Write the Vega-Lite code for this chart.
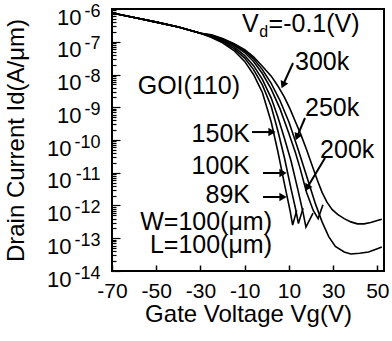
{
  "$schema": "https://vega.github.io/schema/vega-lite/v6.json",
  "width": 272,
  "height": 262,
  "autosize": {"type": "none"},
  "padding": {"left": 112, "top": 9, "right": 8, "bottom": 70},
  "background": "white",
  "config": {
    "view": {"stroke": "black", "strokeWidth": 2},
    "font": "Liberation Sans",
    "text": {"font": "Liberation Sans", "color": "black"}
  },
  "datasets": {
    "curves": [
      {"s": "89K", "v": -70, "i": 7.59e-7}, {"s": "89K", "v": -60, "i": 5.50e-7}, {"s": "89K", "v": -50, "i": 3.98e-7}, {"s": "89K", "v": -40, "i": 2.82e-7}, {"s": "89K", "v": -30, "i": 1.82e-7},
      {"s": "89K", "v": -25, "i": 1.35e-7}, {"s": "89K", "v": -20, "i": 9.33e-8}, {"s": "89K", "v": -15, "i": 5.50e-8}, {"s": "89K", "v": -10, "i": 2.51e-8}, {"s": "89K", "v": -6, "i": 1.00e-8},
      {"s": "89K", "v": -2, "i": 2.82e-9}, {"s": "89K", "v": 2, "i": 3.55e-10}, {"s": "89K", "v": 5, "i": 4.47e-11}, {"s": "89K", "v": 8, "i": 4.47e-12}, {"s": "89K", "v": 10.5, "i": 7.08e-13},
      {"s": "89K", "v": 11.7, "i": 2.51e-13}, {"s": "89K", "v": 13.5, "i": 7.08e-13},

      {"s": "100K", "v": -70, "i": 7.59e-7}, {"s": "100K", "v": -60, "i": 5.50e-7}, {"s": "100K", "v": -50, "i": 3.98e-7}, {"s": "100K", "v": -40, "i": 2.82e-7}, {"s": "100K", "v": -30, "i": 1.82e-7},
      {"s": "100K", "v": -25, "i": 1.41e-7}, {"s": "100K", "v": -20, "i": 1.00e-7}, {"s": "100K", "v": -15, "i": 6.31e-8}, {"s": "100K", "v": -10, "i": 3.16e-8}, {"s": "100K", "v": -6, "i": 1.41e-8},
      {"s": "100K", "v": -2, "i": 4.79e-9}, {"s": "100K", "v": 2, "i": 1.05e-9}, {"s": "100K", "v": 5, "i": 1.91e-10}, {"s": "100K", "v": 8, "i": 2.82e-11}, {"s": "100K", "v": 11, "i": 3.16e-12},
      {"s": "100K", "v": 13, "i": 7.94e-13}, {"s": "100K", "v": 14.3, "i": 2.82e-13}, {"s": "100K", "v": 16.4, "i": 8.32e-13},

      {"s": "150K", "v": -70, "i": 7.59e-7}, {"s": "150K", "v": -60, "i": 5.50e-7}, {"s": "150K", "v": -50, "i": 3.98e-7}, {"s": "150K", "v": -40, "i": 2.82e-7}, {"s": "150K", "v": -30, "i": 1.82e-7},
      {"s": "150K", "v": -25, "i": 1.48e-7}, {"s": "150K", "v": -20, "i": 1.07e-7}, {"s": "150K", "v": -15, "i": 7.08e-8}, {"s": "150K", "v": -10, "i": 3.80e-8}, {"s": "150K", "v": -6, "i": 1.86e-8},
      {"s": "150K", "v": -2, "i": 7.08e-9}, {"s": "150K", "v": 2, "i": 1.91e-9}, {"s": "150K", "v": 5, "i": 5.01e-10}, {"s": "150K", "v": 8, "i": 1.12e-10}, {"s": "150K", "v": 11, "i": 2.24e-11},
      {"s": "150K", "v": 14, "i": 3.16e-12}, {"s": "150K", "v": 16.5, "i": 5.62e-13}, {"s": "150K", "v": 17.7, "i": 2.19e-13}, {"s": "150K", "v": 20.9, "i": 5.89e-13},

      {"s": "200k", "v": -70, "i": 7.59e-7}, {"s": "200k", "v": -60, "i": 5.50e-7}, {"s": "200k", "v": -50, "i": 3.98e-7}, {"s": "200k", "v": -40, "i": 2.82e-7}, {"s": "200k", "v": -30, "i": 1.82e-7},
      {"s": "200k", "v": -25, "i": 1.55e-7}, {"s": "200k", "v": -20, "i": 1.15e-7}, {"s": "200k", "v": -15, "i": 7.94e-8}, {"s": "200k", "v": -10, "i": 4.68e-8}, {"s": "200k", "v": -6, "i": 2.51e-8},
      {"s": "200k", "v": -2, "i": 1.07e-8}, {"s": "200k", "v": 2, "i": 3.55e-9}, {"s": "200k", "v": 6, "i": 8.91e-10}, {"s": "200k", "v": 10, "i": 1.58e-10}, {"s": "200k", "v": 13, "i": 3.98e-11},
      {"s": "200k", "v": 15, "i": 1.41e-11}, {"s": "200k", "v": 18, "i": 2.51e-12}, {"s": "200k", "v": 21, "i": 7.08e-13}, {"s": "200k", "v": 23.2, "i": 3.98e-13}, {"s": "200k", "v": 25.4, "i": 1.05e-12},

      {"s": "250k", "v": -70, "i": 7.59e-7}, {"s": "250k", "v": -60, "i": 5.50e-7}, {"s": "250k", "v": -50, "i": 3.98e-7}, {"s": "250k", "v": -40, "i": 2.82e-7}, {"s": "250k", "v": -30, "i": 1.82e-7},
      {"s": "250k", "v": -25, "i": 1.58e-7}, {"s": "250k", "v": -20, "i": 1.20e-7}, {"s": "250k", "v": -15, "i": 8.51e-8}, {"s": "250k", "v": -10, "i": 5.25e-8}, {"s": "250k", "v": -6, "i": 3.02e-8},
      {"s": "250k", "v": -2, "i": 1.41e-8}, {"s": "250k", "v": 2, "i": 5.37e-9}, {"s": "250k", "v": 6, "i": 1.58e-9}, {"s": "250k", "v": 10, "i": 3.55e-10}, {"s": "250k", "v": 14, "i": 5.62e-11},
      {"s": "250k", "v": 18, "i": 7.94e-12}, {"s": "250k", "v": 22, "i": 1.12e-12}, {"s": "250k", "v": 25, "i": 3.16e-13}, {"s": "250k", "v": 28, "i": 1.12e-13}, {"s": "250k", "v": 31, "i": 5.62e-14},
      {"s": "250k", "v": 35, "i": 3.80e-14}, {"s": "250k", "v": 38, "i": 3.31e-14}, {"s": "250k", "v": 42, "i": 3.47e-14}, {"s": "250k", "v": 46, "i": 3.80e-14}, {"s": "250k", "v": 50, "i": 4.79e-14}, {"s": "250k", "v": 52, "i": 5.37e-14},

      {"s": "300k", "v": -70, "i": 7.59e-7}, {"s": "300k", "v": -60, "i": 5.50e-7}, {"s": "300k", "v": -50, "i": 3.98e-7}, {"s": "300k", "v": -40, "i": 2.82e-7}, {"s": "300k", "v": -30, "i": 1.82e-7},
      {"s": "300k", "v": -25, "i": 1.62e-7}, {"s": "300k", "v": -20, "i": 1.26e-7}, {"s": "300k", "v": -15, "i": 8.91e-8}, {"s": "300k", "v": -10, "i": 5.75e-8}, {"s": "300k", "v": -6, "i": 3.47e-8},
      {"s": "300k", "v": -2, "i": 1.78e-8}, {"s": "300k", "v": 2, "i": 8.91e-9}, {"s": "300k", "v": 5, "i": 4.47e-9}, {"s": "300k", "v": 8, "i": 2.00e-9}, {"s": "300k", "v": 10.5, "i": 8.91e-10},
      {"s": "300k", "v": 13, "i": 3.55e-10}, {"s": "300k", "v": 15.5, "i": 1.41e-10}, {"s": "300k", "v": 18, "i": 5.01e-11}, {"s": "300k", "v": 20.5, "i": 1.66e-11}, {"s": "300k", "v": 22.7, "i": 6.31e-12},
      {"s": "300k", "v": 25, "i": 2.51e-12}, {"s": "300k", "v": 27.2, "i": 1.26e-12}, {"s": "300k", "v": 29.5, "i": 7.59e-13}, {"s": "300k", "v": 32, "i": 5.37e-13}, {"s": "300k", "v": 35, "i": 3.98e-13},
      {"s": "300k", "v": 38, "i": 3.16e-13}, {"s": "300k", "v": 41, "i": 2.75e-13}, {"s": "300k", "v": 44, "i": 2.75e-13}, {"s": "300k", "v": 47, "i": 3.02e-13}, {"s": "300k", "v": 50, "i": 3.47e-13}, {"s": "300k", "v": 52, "i": 3.80e-13}
    ],
    "textLeft": [
      {"t": "V", "v": -11.2, "i": 1.99e-7},
      {"t": "=-0.1(V)", "v": 0.8, "i": 1.99e-7},
      {"t": "300k", "v": 12.75, "i": 1.37e-8},
      {"t": "250k", "v": 17.3, "i": 5.41e-10},
      {"t": "200k", "v": 24.1, "i": 2.82e-11}
    ],
    "textRight": [
      {"t": "GOI(110)", "v": -12.1, "i": 2.54e-9},
      {"t": "150K", "v": -7.6, "i": 8.69e-11},
      {"t": "100K", "v": -7.6, "i": 9.17e-12},
      {"t": "89K", "v": -7.6, "i": 1.19e-12},
      {"t": "W=100(μm)", "v": 2.35, "i": 1.79e-13},
      {"t": "L=100(μm)", "v": 2.35, "i": 3.55e-14}
    ],
    "textSub": [
      {"t": "d", "v": -3.4, "i": 1.40e-7}
    ],
    "arrows": [
      {"a": "300k", "v": 11.85, "i": 2.24e-8, "v2": 7.33, "i2": 4.78e-9},
      {"a": "250k", "v": 17.27, "i": 4.70e-10, "v2": 13.66, "i2": 1.24e-10},
      {"a": "200k", "v": 26.32, "i": 2.82e-11, "v2": 18.18, "i2": 3.42e-12},
      {"a": "150K", "v": -6.69, "i": 1.75e-10, "v2": 2.35, "i2": 1.75e-10},
      {"a": "100K", "v": -1.72, "i": 9.82e-12, "v2": 7.33, "i2": 9.82e-12},
      {"a": "89K", "v": -1.72, "i": 1.82e-12, "v2": 7.33, "i2": 1.82e-12}
    ]
  },
  "resolve": {"axis": {"y": "independent"}},
  "layer": [
    {
      "encoding": {
        "x": {
          "field": "v", "type": "quantitative",
          "scale": {"domain": [-70, 53], "nice": false, "zero": false},
          "axis": {
            "values": [-70, -60, -50, -40, -30, -20, -10, 0, 10, 20, 30, 40, 50],
            "labelExpr": "(datum.value + 70) % 20 == 0 ? '' + datum.value : ''",
            "tickSize": -6, "tickColor": "black", "tickWidth": 1.5,
            "domain": false, "grid": false,
            "labelFont": "Liberation Sans", "labelFontSize": 21, "labelColor": "black",
            "labelPadding": 15, "labelOverlap": false, "labelFlush": false,
            "title": "Gate Voltage Vg(V)", "titleFont": "Liberation Sans", "titleFontSize": 24,
            "titleFontWeight": "normal", "titleColor": "black", "titlePadding": 1
          }
        },
        "y": {
          "field": "i", "type": "quantitative",
          "scale": {"type": "log", "domain": [1e-14, 1e-6], "nice": false},
          "axis": {
            "orient": "left",
            "values": [1e-14, 2e-14, 3e-14, 4e-14, 5e-14, 6e-14, 7e-14, 8e-14, 9e-14,
                       1e-13, 2e-13, 3e-13, 4e-13, 5e-13, 6e-13, 7e-13, 8e-13, 9e-13,
                       1e-12, 2e-12, 3e-12, 4e-12, 5e-12, 6e-12, 7e-12, 8e-12, 9e-12,
                       1e-11, 2e-11, 3e-11, 4e-11, 5e-11, 6e-11, 7e-11, 8e-11, 9e-11,
                       1e-10, 2e-10, 3e-10, 4e-10, 5e-10, 6e-10, 7e-10, 8e-10, 9e-10,
                       1e-9, 2e-9, 3e-9, 4e-9, 5e-9, 6e-9, 7e-9, 8e-9, 9e-9,
                       1e-8, 2e-8, 3e-8, 4e-8, 5e-8, 6e-8, 7e-8, 8e-8, 9e-8,
                       1e-7, 2e-7, 3e-7, 4e-7, 5e-7, 6e-7, 7e-7, 8e-7, 9e-7, 1e-6],
            "labelExpr": "abs(log(datum.value)/LN10 - round(log(datum.value)/LN10)) < 0.001 ? '10' : ''",
            "tickSize": {"condition": {"test": "abs(log(datum.value)/LN10 - round(log(datum.value)/LN10)) < 0.001", "value": -8}, "value": -4},
            "tickColor": "black", "tickWidth": 1.2,
            "domain": false, "grid": false,
            "labelFont": "Liberation Sans", "labelFontSize": 22, "labelColor": "black",
            "labelPadding": {"condition": {"test": "datum.value < 5e-10", "value": 49}, "value": 39},
            "labelOffset": 8, "labelBaseline": "middle",
            "labelOverlap": false, "labelFlush": false,
            "title": "Drain Current Id(A/μm)", "titleFont": "Liberation Sans", "titleFontSize": 24,
            "titleFontWeight": "normal", "titleColor": "black", "titlePadding": 18
          }
        }
      },
      "layer": [
        {
          "data": {"name": "curves"},
          "mark": {"type": "line", "color": "black", "strokeWidth": 1.6, "clip": true},
          "encoding": {"detail": {"field": "s"}}
        },
        {
          "data": {"name": "arrows"},
          "mark": {"type": "rule", "color": "black", "strokeWidth": 2},
          "encoding": {"x2": {"field": "v2"}, "y2": {"field": "i2"}}
        },
        {
          "data": {"name": "arrows"},
          "transform": [{"filter": "datum.a == '150K' || datum.a == '100K' || datum.a == '89K'"}],
          "mark": {"type": "point", "shape": "triangle-right", "filled": true, "color": "black", "size": 70, "opacity": 1},
          "encoding": {"x": {"field": "v2", "type": "quantitative"}, "y": {"field": "i2", "type": "quantitative"}}
        },
        {
          "data": {"name": "arrows"},
          "transform": [{"filter": "datum.a == '300k'"}],
          "mark": {"type": "point", "shape": "triangle-up", "filled": true, "color": "black", "size": 70, "opacity": 1, "angle": 204},
          "encoding": {"x": {"field": "v2", "type": "quantitative"}, "y": {"field": "i2", "type": "quantitative"}}
        },
        {
          "data": {"name": "arrows"},
          "transform": [{"filter": "datum.a == '250k'"}],
          "mark": {"type": "point", "shape": "triangle-up", "filled": true, "color": "black", "size": 70, "opacity": 1, "angle": 203},
          "encoding": {"x": {"field": "v2", "type": "quantitative"}, "y": {"field": "i2", "type": "quantitative"}}
        },
        {
          "data": {"name": "arrows"},
          "transform": [{"filter": "datum.a == '200k'"}],
          "mark": {"type": "point", "shape": "triangle-up", "filled": true, "color": "black", "size": 70, "opacity": 1, "angle": 211},
          "encoding": {"x": {"field": "v2", "type": "quantitative"}, "y": {"field": "i2", "type": "quantitative"}}
        },
        {
          "data": {"name": "textLeft"},
          "mark": {"type": "text", "align": "left", "baseline": "alphabetic", "fontSize": 25, "color": "black"},
          "encoding": {"text": {"field": "t"}}
        },
        {
          "data": {"name": "textRight"},
          "mark": {"type": "text", "align": "right", "baseline": "alphabetic", "fontSize": 25, "color": "black"},
          "encoding": {"text": {"field": "t"}}
        }
      ]
    },
    {
      "data": {"name": "textSub"},
      "mark": {"type": "text", "align": "left", "baseline": "alphabetic", "fontSize": 16, "color": "black"},
      "encoding": {
        "x": {"field": "v", "type": "quantitative"},
        "y": {
          "field": "i", "type": "quantitative",
          "axis": {
            "orient": "left",
            "values": [1e-14, 1e-13, 1e-12, 1e-11, 1e-10, 1e-9, 1e-8, 1e-7, 1e-6],
            "labelExpr": "['-6','-7','-8','-9','-10','-11','-12','-13','-14'][-6 - round(log(datum.value)/LN10)]",
            "ticks": false, "domain": false, "grid": false,
            "labelFont": "Liberation Sans", "labelFontSize": 18, "labelColor": "black",
            "labelPadding": 12, "labelOffset": 2, "labelBaseline": "middle",
            "labelOverlap": false, "labelFlush": false,
            "title": null
          }
        },
        "text": {"field": "t"}
      }
    }
  ]
}
